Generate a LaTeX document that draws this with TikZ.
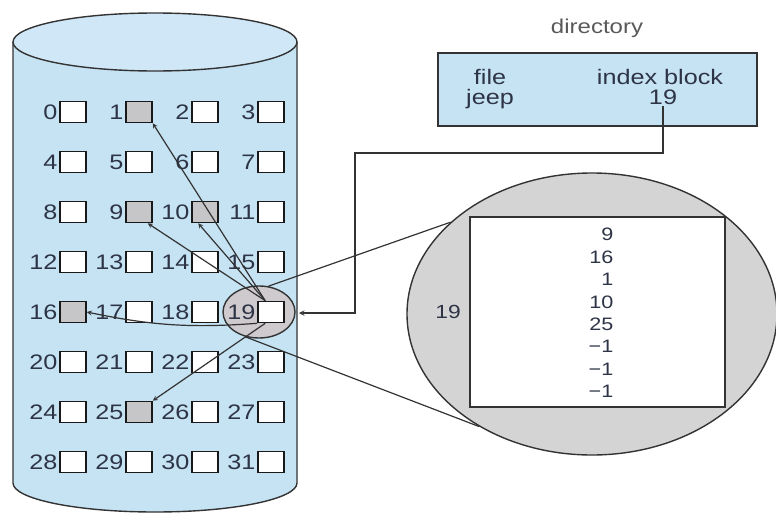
\documentclass[tikz,border=0pt]{standalone}
\usepackage{fontspec}
\setmainfont{Liberation Sans}[FakeStretch=1.2]
\usetikzlibrary{shapes.geometric}
\definecolor{diskblue}{RGB}{198,227,244}
\definecolor{blockgray}{RGB}{198,198,200}
\definecolor{lensgray}{RGB}{206,202,206}
\definecolor{inkgray}{RGB}{45,52,70}

\begin{document}
\begin{tikzpicture}[x=1pt, y=1pt,
    blk/.style={rectangle, draw=black!90, line width=1.6pt, minimum width=26pt, minimum height=21pt, inner sep=0pt},
    num/.style={font=\fontsize{21}{24}\selectfont, text=inkgray, inner sep=1.5pt},
    ptr/.style={->, >=stealth, line width=1.2pt, black!80},
    outline/.style={draw=black!80, line width=1.4pt}
]
    \useasboundingbox (0,0) rectangle (776,-514);

    % Disk
    \draw[outline, fill=diskblue] (13,-42) -- (13,-483) arc[start angle=180, end angle=360, x radius=142, y radius=29] -- (297,-42);
    \draw[outline, fill=diskblue!85] (155,-42) ellipse [x radius=142, y radius=29];

    % Lens round the index block
    \node[ellipse, outline, fill=lensgray, minimum width=72pt, minimum height=52pt, inner sep=0pt] (lens) at (259,-312) {};

    % Blocks 0..31
    \foreach \n in {0,...,31}{
        \pgfmathtruncatemacro{\col}{mod(\n,4)}
        \pgfmathtruncatemacro{\row}{div(\n,4)}
        \pgfmathtruncatemacro{\isused}{(\n==1)||(\n==9)||(\n==10)||(\n==16)||(\n==25)}
        \ifnum\isused=1 \def\bfill{blockgray}\else\def\bfill{white}\fi
        \node[blk, fill=\bfill] (b\n) at ({73+66*\col}, {-112-50*\row}) {};
        \node[num, anchor=east] (l\n) at (b\n.west) {\n};
    }

    % Pointers of the index block
    \draw[ptr] ([xshift=8pt]b19.north west) -- (b1.south east);
    \draw[ptr] ([xshift=8pt]b19.north west) -- ([xshift=-5pt]b9.south east);
    \draw[ptr] ([xshift=8pt]b19.north west) -- ([xshift=7pt]b10.south west);
    \draw[ptr] (b19.south west) to[bend left=8] (b16.east);
    \draw[ptr] ([xshift=8pt]b19.south west) -- (b25.north east);

    % Enlarged index block
    \node[ellipse, outline, fill=black!17, minimum width=370pt, minimum height=282pt, inner sep=0pt] (zoomview) at (592,-314) {};
    \node[rectangle, outline, fill=white, minimum width=255pt, minimum height=190pt] (idxblock) at (597.5,-312) {};
    \node[num, font=\fontsize{18}{22.4}\selectfont, align=right, anchor=east] (entries) at (615,-313) {9\\16\\1\\10\\25\\−1\\−1\\−1};
    \node[num, font=\fontsize{19}{22}\selectfont] (blocknum) at (448,-312) {19};
    \draw[outline, line width=1.2pt] (lens.70) -- (zoomview.147.6);
    \draw[outline, line width=1.2pt] (lens.240) -- (zoomview.225.5);

    % Directory
    \node[num, font=\fontsize{20}{22}\selectfont, text=black!65] (dirtitle) at (597,-28) {directory};
    \node[rectangle, outline, fill=diskblue, minimum width=319pt, minimum height=73pt] (dirbox) at (597.5,-89.5) {};
    \node[num, anchor=base] (fname) at (490,-84) {file};
    \node[num, anchor=base] (jeep) at (490,-104) {jeep};
    \node[num, anchor=base] (idxhead) at (660,-84) {index block};
    \node[num, anchor=base] (idx19) at (663,-104) {19};

    \coordinate (diskR) at (299,-313);
    \coordinate (elbow) at (355,-153);
    \draw[ptr, line width=1.4pt] (idx19.south) |- (elbow) |- (diskR);
\end{tikzpicture}
\end{document}
